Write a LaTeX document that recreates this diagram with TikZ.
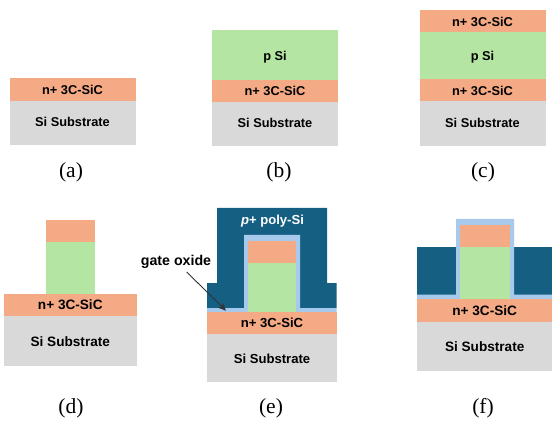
\documentclass[tikz,border=0pt]{standalone}
\usepackage{fontspec}
\setmainfont{Liberation Serif}
\setsansfont{Liberation Sans}
\usetikzlibrary{arrows.meta}
\definecolor{nsic}{HTML}{F4AA84}
\definecolor{psi}{HTML}{B4E5A2}
\definecolor{subst}{HTML}{D9D9D9}
\definecolor{poly}{HTML}{156082}
\definecolor{oxide}{HTML}{A6C9EC}
\begin{document}
\begin{tikzpicture}[%
    x=1pt,y=-1pt,%
    layerlabel/.style={font=\sffamily\bfseries\fontsize{#1}{15}\selectfont,text=black,inner sep=0pt},%
    layerlabel/.default=12.8,%
    caption/.style={font=\fontsize{21.5}{24}\selectfont,inner sep=0pt},%
]%
    \useasboundingbox (0,0) rectangle (559,430);

    % stack (a)
    \fill[nsic] (10,78) rectangle (136,101);
    \fill[subst] (10,101) rectangle (136,145);
    \node[layerlabel] (an) at (72.5,89.5) {n+ 3C-SiC};
    \node[layerlabel] (as) at (72.5,122) {Si Substrate};

    % stack (b)
    \fill[psi] (212,30) rectangle (338,80);
    \fill[nsic] (212,80) rectangle (338,102);
    \fill[subst] (212,102) rectangle (338,146);
    \node[layerlabel] (bp) at (275,57) {p Si};
    \node[layerlabel] (bn) at (275,91) {n+ 3C-SiC};
    \node[layerlabel] (bs) at (275,123) {Si Substrate};

    % stack (c)
    \fill[nsic] (420,10) rectangle (546,32);
    \fill[psi] (420,32) rectangle (546,79.5);
    \fill[nsic] (420,79.5) rectangle (546,101);
    \fill[subst] (420,101) rectangle (546,146);
    \node[layerlabel] (ct) at (482.5,21.7) {n+ 3C-SiC};
    \node[layerlabel] (cp) at (482.5,57) {p Si};
    \node[layerlabel] (cn) at (482.5,91) {n+ 3C-SiC};
    \node[layerlabel] (cs) at (482.5,123.3) {Si Substrate};

    % stack (d), etched pillar
    \fill[nsic] (46,220) rectangle (94.5,242);
    \fill[psi] (46,242) rectangle (94.5,294);
    \fill[nsic] (4,294) rectangle (137,316);
    \fill[subst] (4,316) rectangle (137,366);
    \node[layerlabel=13.6] (dn) at (70.3,305) {n+ 3C-SiC};
    \node[layerlabel=13.6] (ds) at (70.3,341.7) {Si Substrate};

    % stack (e), oxide and gate over the pillar
    \fill[poly] (217,208) -- (327,208) -- (327,283) -- (336.5,283) -- (336.5,308)
        -- (207,308) -- (207,283) -- (217,283) -- cycle;
    \fill[oxide] (207,308) -- (244,308) -- (244,235) -- (300,235) -- (300,308)
        -- (336.5,308) -- (336.5,312) -- (207,312) -- cycle;
    \fill[nsic] (248,241) rectangle (296,263);
    \fill[psi] (248,263) rectangle (296,312);
    \fill[nsic] (207,312) rectangle (336.5,334);
    \fill[subst] (207,334) rectangle (336.5,382);
    \node[layerlabel=13.1,text=white] (ep) at (272.5,221) {\textit{p}+ poly-Si};
    \node[layerlabel=13.1] (en) at (272,323.3) {n+ 3C-SiC};
    \node[layerlabel=13.1] (es) at (272,358.7) {Si Substrate};
    \node[layerlabel=14.2] (gate) at (176,261.5) {gate oxide};
    \coordinate (gatefoot) at (186.7,272);
    \coordinate (gatetip) at (226,310.7);
    \draw[-{Stealth[length=8pt,width=7pt]},black!80,line width=0.9pt] (gatefoot) -- (gatetip);

    % stack (f), gate etched back
    \fill[poly] (417,247.5) rectangle (456,294.5);
    \fill[poly] (514,247.5) rectangle (552,294.5);
    \fill[oxide] (417,294.5) -- (456,294.5) -- (456,219) -- (514,219) -- (514,294.5)
        -- (552,294.5) -- (552,299) -- (417,299) -- cycle;
    \fill[nsic] (460,225) rectangle (509.5,247.5);
    \fill[psi] (460,247.5) rectangle (509.5,299);
    \fill[nsic] (417,299) rectangle (552,322);
    \fill[subst] (417,322) rectangle (552,371);
    \node[layerlabel=13.6] (fn) at (484.7,310.7) {n+ 3C-SiC};
    \node[layerlabel=13.6] (fs) at (484.7,347) {Si Substrate};

    % captions
    \foreach \name/\xx/\yy in {a/71/172.5,b/279/172.5,c/483/172.5,d/71/408,e/271/408,f/483/408}{%
        \node[caption] (cap\name) at (\xx,\yy) {(\name)};
    }
\end{tikzpicture}
\end{document}
